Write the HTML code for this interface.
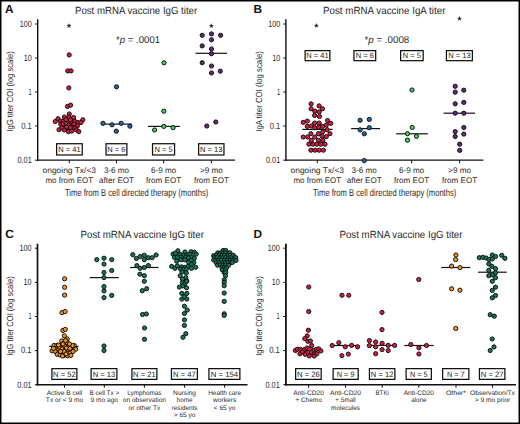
<!DOCTYPE html>
<html><head><meta charset="utf-8"><style>
html,body{margin:0;padding:0;background:#fff;width:520px;height:424px;overflow:hidden;font-family:"Liberation Sans", sans-serif;}
svg text{font-family:"Liberation Sans", sans-serif;text-rendering:geometricPrecision;}
</style></head><body>
<svg width="520" height="424" viewBox="0 0 520 424" style="position:absolute;left:0;top:0" font-family='"Liberation Sans", sans-serif'>
<rect x="0" y="0" width="520" height="424" fill="#000"/>
<rect x="1.5" y="1.5" width="517" height="421" fill="#fff"/>
<text x="5.00" y="12.90" font-size="11.8" text-anchor="start" font-weight="bold" fill="#111">A</text>
<text x="253.60" y="12.90" font-size="11.8" text-anchor="start" font-weight="bold" fill="#111">B</text>
<text x="5.20" y="237.60" font-size="11.8" text-anchor="start" font-weight="bold" fill="#111">C</text>
<text x="253.60" y="237.60" font-size="11.8" text-anchor="start" font-weight="bold" fill="#111">D</text>
<text x="75.00" y="13.50" font-size="10.4" text-anchor="start" textLength="122.20" lengthAdjust="spacingAndGlyphs" fill="#2a2a2a">Post mRNA vaccine IgG titer</text>
<text x="323.00" y="13.50" font-size="10.4" text-anchor="start" textLength="122.40" lengthAdjust="spacingAndGlyphs" fill="#2a2a2a">Post mRNA vaccine IgA titer</text>
<text x="80.50" y="237.70" font-size="10.4" text-anchor="start" textLength="123.50" lengthAdjust="spacingAndGlyphs" fill="#2a2a2a">Post mRNA vaccine IgG titer</text>
<text x="339.50" y="237.70" font-size="10.4" text-anchor="start" textLength="123.00" lengthAdjust="spacingAndGlyphs" fill="#2a2a2a">Post mRNA vaccine IgG titer</text>
<text x="116.00" y="42.90" font-size="9.8" fill="#2a2a2a" textLength="44.20" lengthAdjust="spacingAndGlyphs">*<tspan font-style="italic">p</tspan> = .0001</text>
<text x="364.50" y="42.90" font-size="9.8" fill="#2a2a2a" textLength="44.80" lengthAdjust="spacingAndGlyphs">*<tspan font-style="italic">p</tspan> = .0008</text>
<line x1="37.70" y1="19.20" x2="37.70" y2="160.90" stroke="#111" stroke-width="1.4"/>
<line x1="35.10" y1="24.00" x2="37.70" y2="24.00" stroke="#111" stroke-width="1.0"/>
<text x="31.80" y="26.80" font-size="9.0" text-anchor="end" textLength="12.00" lengthAdjust="spacingAndGlyphs" fill="#2a2a2a">100</text>
<line x1="35.10" y1="58.00" x2="37.70" y2="58.00" stroke="#111" stroke-width="1.0"/>
<text x="31.80" y="60.80" font-size="9.0" text-anchor="end" textLength="8.00" lengthAdjust="spacingAndGlyphs" fill="#2a2a2a">10</text>
<line x1="35.10" y1="92.00" x2="37.70" y2="92.00" stroke="#111" stroke-width="1.0"/>
<text x="31.80" y="94.80" font-size="9.0" text-anchor="end" textLength="3.20" lengthAdjust="spacingAndGlyphs" fill="#2a2a2a">1</text>
<line x1="35.10" y1="126.00" x2="37.70" y2="126.00" stroke="#111" stroke-width="1.0"/>
<text x="31.80" y="128.80" font-size="9.0" text-anchor="end" textLength="10.60" lengthAdjust="spacingAndGlyphs" fill="#2a2a2a">0.1</text>
<line x1="35.10" y1="160.20" x2="37.70" y2="160.20" stroke="#111" stroke-width="1.0"/>
<text x="31.80" y="163.00" font-size="9.0" text-anchor="end" textLength="14.30" lengthAdjust="spacingAndGlyphs" fill="#2a2a2a">0.01</text>
<text transform="translate(13.40,91.40) rotate(-90)" x="0" y="0" font-size="8.9" text-anchor="middle" textLength="80.50" lengthAdjust="spacingAndGlyphs" fill="#2a2a2a">IgG titer  COI (log scale)</text>
<line x1="37.05" y1="160.20" x2="235.00" y2="160.20" stroke="#111" stroke-width="1.3"/>
<line x1="69.30" y1="160.20" x2="69.30" y2="163.20" stroke="#111" stroke-width="1.0"/>
<line x1="116.50" y1="160.20" x2="116.50" y2="163.20" stroke="#111" stroke-width="1.0"/>
<line x1="163.60" y1="160.20" x2="163.60" y2="163.20" stroke="#111" stroke-width="1.0"/>
<line x1="211.40" y1="160.20" x2="211.40" y2="163.20" stroke="#111" stroke-width="1.0"/>
<line x1="285.90" y1="19.20" x2="285.90" y2="160.90" stroke="#111" stroke-width="1.4"/>
<line x1="283.30" y1="24.00" x2="285.90" y2="24.00" stroke="#111" stroke-width="1.0"/>
<text x="280.30" y="26.80" font-size="9.0" text-anchor="end" textLength="12.00" lengthAdjust="spacingAndGlyphs" fill="#2a2a2a">100</text>
<line x1="283.30" y1="58.00" x2="285.90" y2="58.00" stroke="#111" stroke-width="1.0"/>
<text x="280.30" y="60.80" font-size="9.0" text-anchor="end" textLength="8.00" lengthAdjust="spacingAndGlyphs" fill="#2a2a2a">10</text>
<line x1="283.30" y1="92.00" x2="285.90" y2="92.00" stroke="#111" stroke-width="1.0"/>
<text x="280.30" y="94.80" font-size="9.0" text-anchor="end" textLength="3.20" lengthAdjust="spacingAndGlyphs" fill="#2a2a2a">1</text>
<line x1="283.30" y1="126.00" x2="285.90" y2="126.00" stroke="#111" stroke-width="1.0"/>
<text x="280.30" y="128.80" font-size="9.0" text-anchor="end" textLength="10.60" lengthAdjust="spacingAndGlyphs" fill="#2a2a2a">0.1</text>
<line x1="283.30" y1="160.20" x2="285.90" y2="160.20" stroke="#111" stroke-width="1.0"/>
<text x="280.30" y="163.00" font-size="9.0" text-anchor="end" textLength="14.30" lengthAdjust="spacingAndGlyphs" fill="#2a2a2a">0.01</text>
<text transform="translate(261.60,91.40) rotate(-90)" x="0" y="0" font-size="8.9" text-anchor="middle" textLength="80.50" lengthAdjust="spacingAndGlyphs" fill="#2a2a2a">IgA titer  COI (log scale)</text>
<line x1="285.25" y1="160.20" x2="483.30" y2="160.20" stroke="#111" stroke-width="1.3"/>
<line x1="317.30" y1="160.20" x2="317.30" y2="163.20" stroke="#111" stroke-width="1.0"/>
<line x1="364.20" y1="160.20" x2="364.20" y2="163.20" stroke="#111" stroke-width="1.0"/>
<line x1="411.60" y1="160.20" x2="411.60" y2="163.20" stroke="#111" stroke-width="1.0"/>
<line x1="459.60" y1="160.20" x2="459.60" y2="163.20" stroke="#111" stroke-width="1.0"/>
<line x1="37.50" y1="243.70" x2="37.50" y2="385.55" stroke="#111" stroke-width="1.7"/>
<line x1="34.90" y1="248.20" x2="37.50" y2="248.20" stroke="#111" stroke-width="1.0"/>
<text x="31.60" y="251.00" font-size="9.0" text-anchor="end" textLength="12.00" lengthAdjust="spacingAndGlyphs" fill="#2a2a2a">100</text>
<line x1="34.90" y1="282.40" x2="37.50" y2="282.40" stroke="#111" stroke-width="1.0"/>
<text x="31.60" y="285.20" font-size="9.0" text-anchor="end" textLength="8.00" lengthAdjust="spacingAndGlyphs" fill="#2a2a2a">10</text>
<line x1="34.90" y1="316.50" x2="37.50" y2="316.50" stroke="#111" stroke-width="1.0"/>
<text x="31.60" y="319.30" font-size="9.0" text-anchor="end" textLength="3.20" lengthAdjust="spacingAndGlyphs" fill="#2a2a2a">1</text>
<line x1="34.90" y1="350.60" x2="37.50" y2="350.60" stroke="#111" stroke-width="1.0"/>
<text x="31.60" y="353.40" font-size="9.0" text-anchor="end" textLength="10.60" lengthAdjust="spacingAndGlyphs" fill="#2a2a2a">0.1</text>
<line x1="34.90" y1="384.70" x2="37.50" y2="384.70" stroke="#111" stroke-width="1.0"/>
<text x="31.60" y="387.50" font-size="9.0" text-anchor="end" textLength="14.30" lengthAdjust="spacingAndGlyphs" fill="#2a2a2a">0.01</text>
<text transform="translate(13.40,316.00) rotate(-90)" x="0" y="0" font-size="8.9" text-anchor="middle" textLength="79.50" lengthAdjust="spacingAndGlyphs" fill="#2a2a2a">IgG titer  COI (log scale)</text>
<line x1="36.70" y1="384.70" x2="247.50" y2="384.70" stroke="#111" stroke-width="1.6"/>
<line x1="64.50" y1="384.70" x2="64.50" y2="387.70" stroke="#111" stroke-width="1.0"/>
<line x1="104.30" y1="384.70" x2="104.30" y2="387.70" stroke="#111" stroke-width="1.0"/>
<line x1="144.40" y1="384.70" x2="144.40" y2="387.70" stroke="#111" stroke-width="1.0"/>
<line x1="184.60" y1="384.70" x2="184.60" y2="387.70" stroke="#111" stroke-width="1.0"/>
<line x1="224.60" y1="384.70" x2="224.60" y2="387.70" stroke="#111" stroke-width="1.0"/>
<line x1="285.90" y1="243.70" x2="285.90" y2="385.60" stroke="#111" stroke-width="1.8"/>
<line x1="283.30" y1="248.20" x2="285.90" y2="248.20" stroke="#111" stroke-width="1.0"/>
<text x="279.80" y="251.00" font-size="9.0" text-anchor="end" textLength="12.00" lengthAdjust="spacingAndGlyphs" fill="#2a2a2a">100</text>
<line x1="283.30" y1="282.40" x2="285.90" y2="282.40" stroke="#111" stroke-width="1.0"/>
<text x="279.80" y="285.20" font-size="9.0" text-anchor="end" textLength="8.00" lengthAdjust="spacingAndGlyphs" fill="#2a2a2a">10</text>
<line x1="283.30" y1="316.50" x2="285.90" y2="316.50" stroke="#111" stroke-width="1.0"/>
<text x="279.80" y="319.30" font-size="9.0" text-anchor="end" textLength="3.20" lengthAdjust="spacingAndGlyphs" fill="#2a2a2a">1</text>
<line x1="283.30" y1="350.60" x2="285.90" y2="350.60" stroke="#111" stroke-width="1.0"/>
<text x="279.80" y="353.40" font-size="9.0" text-anchor="end" textLength="10.60" lengthAdjust="spacingAndGlyphs" fill="#2a2a2a">0.1</text>
<line x1="283.30" y1="384.70" x2="285.90" y2="384.70" stroke="#111" stroke-width="1.0"/>
<text x="279.80" y="387.50" font-size="9.0" text-anchor="end" textLength="14.30" lengthAdjust="spacingAndGlyphs" fill="#2a2a2a">0.01</text>
<text transform="translate(261.60,316.00) rotate(-90)" x="0" y="0" font-size="8.9" text-anchor="middle" textLength="79.50" lengthAdjust="spacingAndGlyphs" fill="#2a2a2a">IgG titer  COI (log scale)</text>
<line x1="285.10" y1="384.70" x2="516.00" y2="384.70" stroke="#111" stroke-width="1.6"/>
<line x1="308.60" y1="384.70" x2="308.60" y2="387.70" stroke="#111" stroke-width="1.0"/>
<line x1="345.50" y1="384.70" x2="345.50" y2="387.70" stroke="#111" stroke-width="1.0"/>
<line x1="382.20" y1="384.70" x2="382.20" y2="387.70" stroke="#111" stroke-width="1.0"/>
<line x1="418.80" y1="384.70" x2="418.80" y2="387.70" stroke="#111" stroke-width="1.0"/>
<line x1="456.00" y1="384.70" x2="456.00" y2="387.70" stroke="#111" stroke-width="1.0"/>
<line x1="492.50" y1="384.70" x2="492.50" y2="387.70" stroke="#111" stroke-width="1.0"/>
<text x="69.30" y="173.30" font-size="8.2" text-anchor="middle" textLength="53.50" lengthAdjust="spacingAndGlyphs" fill="#2a2a2a">ongoing Tx/&lt;3</text>
<text x="69.30" y="182.80" font-size="8.2" text-anchor="middle" textLength="47.70" lengthAdjust="spacingAndGlyphs" fill="#2a2a2a">mo from EOT</text>
<text x="116.50" y="173.30" font-size="8.2" text-anchor="middle" textLength="25.20" lengthAdjust="spacingAndGlyphs" fill="#2a2a2a">3-6 mo</text>
<text x="116.50" y="182.80" font-size="8.2" text-anchor="middle" textLength="35.00" lengthAdjust="spacingAndGlyphs" fill="#2a2a2a">after EOT</text>
<text x="163.60" y="173.30" font-size="8.2" text-anchor="middle" textLength="25.20" lengthAdjust="spacingAndGlyphs" fill="#2a2a2a">6-9 mo</text>
<text x="163.60" y="182.80" font-size="8.2" text-anchor="middle" textLength="35.00" lengthAdjust="spacingAndGlyphs" fill="#2a2a2a">from EOT</text>
<text x="211.40" y="173.30" font-size="8.2" text-anchor="middle" textLength="23.00" lengthAdjust="spacingAndGlyphs" fill="#2a2a2a">&gt;9 mo</text>
<text x="211.40" y="182.80" font-size="8.2" text-anchor="middle" textLength="35.00" lengthAdjust="spacingAndGlyphs" fill="#2a2a2a">from EOT</text>
<text x="317.30" y="173.30" font-size="8.2" text-anchor="middle" textLength="53.50" lengthAdjust="spacingAndGlyphs" fill="#2a2a2a">ongoing Tx/&lt;3</text>
<text x="317.30" y="182.80" font-size="8.2" text-anchor="middle" textLength="47.70" lengthAdjust="spacingAndGlyphs" fill="#2a2a2a">mo from EOT</text>
<text x="364.20" y="173.30" font-size="8.2" text-anchor="middle" textLength="25.20" lengthAdjust="spacingAndGlyphs" fill="#2a2a2a">3-6 mo</text>
<text x="364.20" y="182.80" font-size="8.2" text-anchor="middle" textLength="35.00" lengthAdjust="spacingAndGlyphs" fill="#2a2a2a">after EOT</text>
<text x="411.60" y="173.30" font-size="8.2" text-anchor="middle" textLength="25.20" lengthAdjust="spacingAndGlyphs" fill="#2a2a2a">6-9 mo</text>
<text x="411.60" y="182.80" font-size="8.2" text-anchor="middle" textLength="35.00" lengthAdjust="spacingAndGlyphs" fill="#2a2a2a">from EOT</text>
<text x="459.60" y="173.30" font-size="8.2" text-anchor="middle" textLength="23.00" lengthAdjust="spacingAndGlyphs" fill="#2a2a2a">&gt;9 mo</text>
<text x="459.60" y="182.80" font-size="8.2" text-anchor="middle" textLength="35.00" lengthAdjust="spacingAndGlyphs" fill="#2a2a2a">from EOT</text>
<text x="65.00" y="196.40" font-size="10.0" text-anchor="start" textLength="143.30" lengthAdjust="spacingAndGlyphs" fill="#2a2a2a">Time from B cell directed therapy (months)</text>
<text x="313.00" y="196.40" font-size="10.0" text-anchor="start" textLength="143.30" lengthAdjust="spacingAndGlyphs" fill="#2a2a2a">Time from B cell directed therapy (months)</text>
<text x="64.50" y="394.80" font-size="6.6" text-anchor="middle" textLength="35.60" lengthAdjust="spacingAndGlyphs" fill="#2a2a2a">Active B cell</text>
<text x="64.50" y="402.20" font-size="6.6" text-anchor="middle" textLength="37.30" lengthAdjust="spacingAndGlyphs" fill="#2a2a2a">Tx or &lt; 9 mo</text>
<text x="104.30" y="394.80" font-size="6.6" text-anchor="middle" textLength="29.80" lengthAdjust="spacingAndGlyphs" fill="#2a2a2a">B cell Tx &gt;</text>
<text x="104.30" y="402.20" font-size="6.6" text-anchor="middle" textLength="27.50" lengthAdjust="spacingAndGlyphs" fill="#2a2a2a">9 mo ago</text>
<text x="144.40" y="394.80" font-size="6.6" text-anchor="middle" textLength="34.20" lengthAdjust="spacingAndGlyphs" fill="#2a2a2a">Lymphomas</text>
<text x="144.40" y="402.20" font-size="6.6" text-anchor="middle" textLength="43.30" lengthAdjust="spacingAndGlyphs" fill="#2a2a2a">on observation</text>
<text x="144.40" y="409.60" font-size="6.6" text-anchor="middle" textLength="31.80" lengthAdjust="spacingAndGlyphs" fill="#2a2a2a">or other Tx</text>
<text x="184.60" y="394.80" font-size="6.6" text-anchor="middle" textLength="23.00" lengthAdjust="spacingAndGlyphs" fill="#2a2a2a">Nursing</text>
<text x="184.60" y="402.20" font-size="6.6" text-anchor="middle" textLength="15.60" lengthAdjust="spacingAndGlyphs" fill="#2a2a2a">home</text>
<text x="184.60" y="409.60" font-size="6.6" text-anchor="middle" textLength="25.80" lengthAdjust="spacingAndGlyphs" fill="#2a2a2a">residents</text>
<text x="184.60" y="417.00" font-size="6.6" text-anchor="middle" textLength="21.60" lengthAdjust="spacingAndGlyphs" fill="#2a2a2a">&gt; 65 yo</text>
<text x="224.60" y="394.80" font-size="6.6" text-anchor="middle" textLength="32.70" lengthAdjust="spacingAndGlyphs" fill="#2a2a2a">Health care</text>
<text x="224.60" y="402.20" font-size="6.6" text-anchor="middle" textLength="23.20" lengthAdjust="spacingAndGlyphs" fill="#2a2a2a">workers</text>
<text x="224.60" y="409.60" font-size="6.6" text-anchor="middle" textLength="21.60" lengthAdjust="spacingAndGlyphs" fill="#2a2a2a">&lt; 65 yo</text>
<text x="308.60" y="394.80" font-size="6.6" text-anchor="middle" textLength="30.80" lengthAdjust="spacingAndGlyphs" fill="#2a2a2a">Anti-CD20</text>
<text x="308.60" y="402.20" font-size="6.6" text-anchor="middle" textLength="26.40" lengthAdjust="spacingAndGlyphs" fill="#2a2a2a">+ Chemo</text>
<text x="345.50" y="394.80" font-size="6.6" text-anchor="middle" textLength="30.80" lengthAdjust="spacingAndGlyphs" fill="#2a2a2a">Anti-CD20</text>
<text x="345.50" y="402.20" font-size="6.6" text-anchor="middle" textLength="20.40" lengthAdjust="spacingAndGlyphs" fill="#2a2a2a">+ Small</text>
<text x="345.50" y="409.60" font-size="6.6" text-anchor="middle" textLength="28.80" lengthAdjust="spacingAndGlyphs" fill="#2a2a2a">molecules</text>
<text x="382.20" y="394.80" font-size="6.6" text-anchor="middle" textLength="13.40" lengthAdjust="spacingAndGlyphs" fill="#2a2a2a">BTKi</text>
<text x="418.80" y="394.80" font-size="6.6" text-anchor="middle" textLength="30.30" lengthAdjust="spacingAndGlyphs" fill="#2a2a2a">Anti-CD20</text>
<text x="418.80" y="402.20" font-size="6.6" text-anchor="middle" textLength="15.30" lengthAdjust="spacingAndGlyphs" fill="#2a2a2a">alone</text>
<text x="456.00" y="394.80" font-size="6.6" text-anchor="middle" textLength="20.20" lengthAdjust="spacingAndGlyphs" fill="#2a2a2a">Other*</text>
<text x="492.50" y="394.80" font-size="6.6" text-anchor="middle" textLength="44.80" lengthAdjust="spacingAndGlyphs" fill="#2a2a2a">Observation/Tx</text>
<text x="492.50" y="402.20" font-size="6.6" text-anchor="middle" textLength="35.60" lengthAdjust="spacingAndGlyphs" fill="#2a2a2a">&gt; 9 mo prior</text>
<rect x="56.62" y="143.72" width="25.65" height="11.25" fill="#fff" stroke="#111" stroke-width="1.25"/>
<text x="69.45" y="151.80" font-size="7.6" text-anchor="middle" textLength="22.40" lengthAdjust="spacingAndGlyphs" fill="#222">N = 41</text>
<rect x="106.03" y="143.72" width="20.85" height="11.25" fill="#fff" stroke="#111" stroke-width="1.25"/>
<text x="116.45" y="151.80" font-size="7.6" text-anchor="middle" textLength="18.20" lengthAdjust="spacingAndGlyphs" fill="#222">N = 6</text>
<rect x="152.53" y="143.72" width="22.05" height="11.25" fill="#fff" stroke="#111" stroke-width="1.25"/>
<text x="163.55" y="151.80" font-size="7.6" text-anchor="middle" textLength="18.20" lengthAdjust="spacingAndGlyphs" fill="#222">N = 5</text>
<rect x="198.62" y="143.72" width="25.35" height="11.25" fill="#fff" stroke="#111" stroke-width="1.25"/>
<text x="211.30" y="151.80" font-size="7.6" text-anchor="middle" textLength="22.40" lengthAdjust="spacingAndGlyphs" fill="#222">N = 13</text>
<rect x="305.12" y="50.62" width="24.75" height="10.05" fill="#fff" stroke="#111" stroke-width="1.25"/>
<text x="317.50" y="57.50" font-size="7.6" text-anchor="middle" textLength="22.40" lengthAdjust="spacingAndGlyphs" fill="#222">N = 41</text>
<rect x="353.93" y="50.62" width="21.75" height="10.05" fill="#fff" stroke="#111" stroke-width="1.25"/>
<text x="364.80" y="57.50" font-size="7.6" text-anchor="middle" textLength="18.20" lengthAdjust="spacingAndGlyphs" fill="#222">N = 6</text>
<rect x="400.62" y="50.62" width="22.55" height="10.05" fill="#fff" stroke="#111" stroke-width="1.25"/>
<text x="411.90" y="57.50" font-size="7.6" text-anchor="middle" textLength="18.20" lengthAdjust="spacingAndGlyphs" fill="#222">N = 5</text>
<rect x="446.43" y="50.62" width="25.95" height="10.05" fill="#fff" stroke="#111" stroke-width="1.25"/>
<text x="459.40" y="57.50" font-size="7.6" text-anchor="middle" textLength="22.40" lengthAdjust="spacingAndGlyphs" fill="#222">N = 13</text>
<rect x="51.92" y="368.62" width="24.95" height="10.75" fill="#fff" stroke="#111" stroke-width="1.25"/>
<text x="64.40" y="376.60" font-size="7.8" text-anchor="middle" textLength="22.60" lengthAdjust="spacingAndGlyphs" fill="#222">N = 52</text>
<rect x="91.12" y="368.62" width="25.75" height="10.75" fill="#fff" stroke="#111" stroke-width="1.25"/>
<text x="104.00" y="376.60" font-size="7.8" text-anchor="middle" textLength="22.60" lengthAdjust="spacingAndGlyphs" fill="#222">N = 13</text>
<rect x="131.93" y="368.62" width="24.95" height="10.75" fill="#fff" stroke="#111" stroke-width="1.25"/>
<text x="144.40" y="376.60" font-size="7.8" text-anchor="middle" textLength="22.60" lengthAdjust="spacingAndGlyphs" fill="#222">N = 21</text>
<rect x="171.43" y="368.62" width="25.95" height="10.75" fill="#fff" stroke="#111" stroke-width="1.25"/>
<text x="184.40" y="376.60" font-size="7.8" text-anchor="middle" textLength="22.60" lengthAdjust="spacingAndGlyphs" fill="#222">N = 47</text>
<rect x="208.93" y="368.62" width="30.95" height="10.75" fill="#fff" stroke="#111" stroke-width="1.25"/>
<text x="224.40" y="376.60" font-size="7.8" text-anchor="middle" textLength="27.50" lengthAdjust="spacingAndGlyphs" fill="#222">N = 154</text>
<rect x="295.62" y="368.62" width="25.55" height="10.75" fill="#fff" stroke="#111" stroke-width="1.25"/>
<text x="308.40" y="376.60" font-size="7.8" text-anchor="middle" textLength="22.60" lengthAdjust="spacingAndGlyphs" fill="#222">N = 26</text>
<rect x="333.12" y="368.62" width="25.05" height="10.75" fill="#fff" stroke="#111" stroke-width="1.25"/>
<text x="345.65" y="376.60" font-size="7.8" text-anchor="middle" textLength="17.60" lengthAdjust="spacingAndGlyphs" fill="#222">N = 9</text>
<rect x="369.43" y="368.62" width="25.45" height="10.75" fill="#fff" stroke="#111" stroke-width="1.25"/>
<text x="382.15" y="376.60" font-size="7.8" text-anchor="middle" textLength="22.60" lengthAdjust="spacingAndGlyphs" fill="#222">N = 12</text>
<rect x="406.12" y="368.62" width="25.25" height="10.75" fill="#fff" stroke="#111" stroke-width="1.25"/>
<text x="418.75" y="376.60" font-size="7.8" text-anchor="middle" textLength="17.60" lengthAdjust="spacingAndGlyphs" fill="#222">N = 5</text>
<rect x="442.62" y="368.62" width="26.25" height="10.75" fill="#fff" stroke="#111" stroke-width="1.25"/>
<text x="455.75" y="376.60" font-size="7.8" text-anchor="middle" textLength="17.60" lengthAdjust="spacingAndGlyphs" fill="#222">N = 7</text>
<rect x="479.43" y="368.62" width="25.45" height="10.75" fill="#fff" stroke="#111" stroke-width="1.25"/>
<text x="492.15" y="376.60" font-size="7.8" text-anchor="middle" textLength="22.60" lengthAdjust="spacingAndGlyphs" fill="#222">N = 27</text>
<polygon points="69.00,23.20 69.69,24.85 71.47,25.00 70.11,26.16 70.53,27.90 69.00,26.97 67.47,27.90 67.89,26.16 66.53,25.00 68.31,24.85" fill="#333"/>
<polygon points="211.40,23.30 212.09,24.95 213.87,25.10 212.51,26.26 212.93,28.00 211.40,27.07 209.87,28.00 210.29,26.26 208.93,25.10 210.71,24.95" fill="#333"/>
<polygon points="316.40,23.10 317.09,24.75 318.87,24.90 317.51,26.06 317.93,27.80 316.40,26.87 314.87,27.80 315.29,26.06 313.93,24.90 315.71,24.75" fill="#333"/>
<polygon points="459.50,16.10 460.19,17.75 461.97,17.90 460.61,19.06 461.03,20.80 459.50,19.87 457.97,20.80 458.39,19.06 457.03,17.90 458.81,17.75" fill="#333"/>
<line x1="101.00" y1="124.10" x2="131.80" y2="124.10" stroke="#111" stroke-width="1.2"/>
<line x1="148.00" y1="126.40" x2="179.80" y2="126.40" stroke="#111" stroke-width="1.2"/>
<line x1="195.50" y1="53.30" x2="227.00" y2="53.30" stroke="#111" stroke-width="1.2"/>
<line x1="302.30" y1="129.40" x2="332.70" y2="129.40" stroke="#111" stroke-width="1.2"/>
<line x1="351.10" y1="128.60" x2="380.00" y2="128.60" stroke="#111" stroke-width="1.2"/>
<line x1="396.20" y1="133.80" x2="427.80" y2="133.80" stroke="#111" stroke-width="1.2"/>
<line x1="443.60" y1="113.20" x2="475.00" y2="113.20" stroke="#111" stroke-width="1.2"/>
<line x1="49.20" y1="346.40" x2="78.50" y2="346.40" stroke="#111" stroke-width="1.2"/>
<line x1="89.80" y1="277.60" x2="118.70" y2="277.60" stroke="#111" stroke-width="1.2"/>
<line x1="130.10" y1="267.50" x2="158.50" y2="267.50" stroke="#111" stroke-width="1.2"/>
<line x1="332.00" y1="345.50" x2="357.60" y2="345.50" stroke="#111" stroke-width="1.2"/>
<line x1="368.00" y1="345.40" x2="396.00" y2="345.40" stroke="#111" stroke-width="1.2"/>
<line x1="404.30" y1="345.50" x2="433.70" y2="345.50" stroke="#111" stroke-width="1.2"/>
<line x1="441.20" y1="267.50" x2="470.30" y2="267.50" stroke="#111" stroke-width="1.2"/>
<line x1="478.10" y1="272.20" x2="506.80" y2="272.20" stroke="#111" stroke-width="1.2"/>
<circle cx="69.20" cy="54.90" r="2.1" fill="#dc1a40" stroke="#111" stroke-width="1.0"/>
<circle cx="67.80" cy="70.90" r="2.1" fill="#dc1a40" stroke="#111" stroke-width="1.0"/>
<circle cx="71.00" cy="70.90" r="2.1" fill="#dc1a40" stroke="#111" stroke-width="1.0"/>
<circle cx="68.80" cy="87.90" r="2.1" fill="#dc1a40" stroke="#111" stroke-width="1.0"/>
<circle cx="67.50" cy="106.40" r="2.1" fill="#dc1a40" stroke="#111" stroke-width="1.0"/>
<circle cx="70.60" cy="105.20" r="2.1" fill="#dc1a40" stroke="#111" stroke-width="1.0"/>
<circle cx="69.30" cy="114.00" r="2.1" fill="#dc1a40" stroke="#111" stroke-width="1.0"/>
<circle cx="64.40" cy="117.00" r="2.1" fill="#dc1a40" stroke="#111" stroke-width="1.0"/>
<circle cx="68.90" cy="117.30" r="2.1" fill="#dc1a40" stroke="#111" stroke-width="1.0"/>
<circle cx="73.60" cy="117.50" r="2.1" fill="#dc1a40" stroke="#111" stroke-width="1.0"/>
<circle cx="58.00" cy="118.70" r="2.1" fill="#dc1a40" stroke="#111" stroke-width="1.0"/>
<circle cx="55.20" cy="121.50" r="2.1" fill="#dc1a40" stroke="#111" stroke-width="1.0"/>
<circle cx="82.80" cy="119.80" r="2.1" fill="#dc1a40" stroke="#111" stroke-width="1.0"/>
<circle cx="60.40" cy="121.20" r="2.1" fill="#dc1a40" stroke="#111" stroke-width="1.0"/>
<circle cx="63.20" cy="121.20" r="2.1" fill="#dc1a40" stroke="#111" stroke-width="1.0"/>
<circle cx="67.50" cy="121.20" r="2.1" fill="#dc1a40" stroke="#111" stroke-width="1.0"/>
<circle cx="71.50" cy="122.50" r="2.1" fill="#dc1a40" stroke="#111" stroke-width="1.0"/>
<circle cx="75.00" cy="121.50" r="2.1" fill="#dc1a40" stroke="#111" stroke-width="1.0"/>
<circle cx="77.80" cy="122.50" r="2.1" fill="#dc1a40" stroke="#111" stroke-width="1.0"/>
<circle cx="81.00" cy="122.50" r="2.1" fill="#dc1a40" stroke="#111" stroke-width="1.0"/>
<circle cx="60.80" cy="124.30" r="2.1" fill="#dc1a40" stroke="#111" stroke-width="1.0"/>
<circle cx="65.10" cy="125.90" r="2.1" fill="#dc1a40" stroke="#111" stroke-width="1.0"/>
<circle cx="68.90" cy="125.00" r="2.1" fill="#dc1a40" stroke="#111" stroke-width="1.0"/>
<circle cx="72.60" cy="125.30" r="2.1" fill="#dc1a40" stroke="#111" stroke-width="1.0"/>
<circle cx="77.40" cy="125.90" r="2.1" fill="#dc1a40" stroke="#111" stroke-width="1.0"/>
<circle cx="59.00" cy="129.70" r="2.1" fill="#dc1a40" stroke="#111" stroke-width="1.0"/>
<circle cx="61.80" cy="127.80" r="2.1" fill="#dc1a40" stroke="#111" stroke-width="1.0"/>
<circle cx="64.20" cy="130.00" r="2.1" fill="#dc1a40" stroke="#111" stroke-width="1.0"/>
<circle cx="67.90" cy="128.30" r="2.1" fill="#dc1a40" stroke="#111" stroke-width="1.0"/>
<circle cx="71.50" cy="130.00" r="2.1" fill="#dc1a40" stroke="#111" stroke-width="1.0"/>
<circle cx="75.00" cy="128.10" r="2.1" fill="#dc1a40" stroke="#111" stroke-width="1.0"/>
<circle cx="76.40" cy="130.00" r="2.1" fill="#dc1a40" stroke="#111" stroke-width="1.0"/>
<circle cx="68.40" cy="131.60" r="2.1" fill="#dc1a40" stroke="#111" stroke-width="1.0"/>
<circle cx="71.70" cy="131.10" r="2.1" fill="#dc1a40" stroke="#111" stroke-width="1.0"/>
<circle cx="78.80" cy="131.60" r="2.1" fill="#dc1a40" stroke="#111" stroke-width="1.0"/>
<circle cx="66.00" cy="119.50" r="2.1" fill="#dc1a40" stroke="#111" stroke-width="1.0"/>
<circle cx="70.50" cy="119.80" r="2.1" fill="#dc1a40" stroke="#111" stroke-width="1.0"/>
<circle cx="63.00" cy="124.00" r="2.1" fill="#dc1a40" stroke="#111" stroke-width="1.0"/>
<circle cx="74.00" cy="124.00" r="2.1" fill="#dc1a40" stroke="#111" stroke-width="1.0"/>
<circle cx="70.20" cy="127.50" r="2.1" fill="#dc1a40" stroke="#111" stroke-width="1.0"/>
<circle cx="66.50" cy="127.00" r="2.1" fill="#dc1a40" stroke="#111" stroke-width="1.0"/>
<circle cx="116.50" cy="86.80" r="2.1" fill="#1f6aa8" stroke="#111" stroke-width="1.0"/>
<circle cx="103.00" cy="123.30" r="2.1" fill="#1f6aa8" stroke="#111" stroke-width="1.0"/>
<circle cx="112.00" cy="124.80" r="2.1" fill="#1f6aa8" stroke="#111" stroke-width="1.0"/>
<circle cx="121.10" cy="123.30" r="2.1" fill="#1f6aa8" stroke="#111" stroke-width="1.0"/>
<circle cx="129.90" cy="126.20" r="2.1" fill="#1f6aa8" stroke="#111" stroke-width="1.0"/>
<circle cx="116.30" cy="131.20" r="2.1" fill="#1f6aa8" stroke="#111" stroke-width="1.0"/>
<circle cx="164.00" cy="62.80" r="2.1" fill="#3fd45a" stroke="#111" stroke-width="1.0"/>
<circle cx="163.80" cy="111.20" r="2.1" fill="#3fd45a" stroke="#111" stroke-width="1.0"/>
<circle cx="154.60" cy="130.00" r="2.1" fill="#3fd45a" stroke="#111" stroke-width="1.0"/>
<circle cx="163.80" cy="126.40" r="2.1" fill="#3fd45a" stroke="#111" stroke-width="1.0"/>
<circle cx="173.10" cy="127.70" r="2.1" fill="#3fd45a" stroke="#111" stroke-width="1.0"/>
<circle cx="202.20" cy="35.30" r="2.1" fill="#62287f" stroke="#111" stroke-width="1.0"/>
<circle cx="211.50" cy="33.90" r="2.1" fill="#62287f" stroke="#111" stroke-width="1.0"/>
<circle cx="220.60" cy="35.30" r="2.1" fill="#62287f" stroke="#111" stroke-width="1.0"/>
<circle cx="211.50" cy="39.80" r="2.1" fill="#62287f" stroke="#111" stroke-width="1.0"/>
<circle cx="202.20" cy="45.90" r="2.1" fill="#62287f" stroke="#111" stroke-width="1.0"/>
<circle cx="211.50" cy="49.00" r="2.1" fill="#62287f" stroke="#111" stroke-width="1.0"/>
<circle cx="211.50" cy="53.70" r="2.1" fill="#62287f" stroke="#111" stroke-width="1.0"/>
<circle cx="202.20" cy="62.70" r="2.1" fill="#62287f" stroke="#111" stroke-width="1.0"/>
<circle cx="211.50" cy="66.00" r="2.1" fill="#62287f" stroke="#111" stroke-width="1.0"/>
<circle cx="211.50" cy="73.00" r="2.1" fill="#62287f" stroke="#111" stroke-width="1.0"/>
<circle cx="220.30" cy="71.20" r="2.1" fill="#62287f" stroke="#111" stroke-width="1.0"/>
<circle cx="206.80" cy="126.00" r="2.1" fill="#62287f" stroke="#111" stroke-width="1.0"/>
<circle cx="215.80" cy="122.00" r="2.1" fill="#62287f" stroke="#111" stroke-width="1.0"/>
<circle cx="311.10" cy="103.90" r="2.1" fill="#dc1a40" stroke="#111" stroke-width="1.0"/>
<circle cx="319.10" cy="105.90" r="2.1" fill="#dc1a40" stroke="#111" stroke-width="1.0"/>
<circle cx="311.10" cy="108.80" r="2.1" fill="#dc1a40" stroke="#111" stroke-width="1.0"/>
<circle cx="322.50" cy="108.80" r="2.1" fill="#dc1a40" stroke="#111" stroke-width="1.0"/>
<circle cx="314.80" cy="111.20" r="2.1" fill="#dc1a40" stroke="#111" stroke-width="1.0"/>
<circle cx="319.20" cy="111.90" r="2.1" fill="#dc1a40" stroke="#111" stroke-width="1.0"/>
<circle cx="314.60" cy="115.40" r="2.1" fill="#dc1a40" stroke="#111" stroke-width="1.0"/>
<circle cx="319.50" cy="116.50" r="2.1" fill="#dc1a40" stroke="#111" stroke-width="1.0"/>
<circle cx="303.20" cy="122.40" r="2.1" fill="#dc1a40" stroke="#111" stroke-width="1.0"/>
<circle cx="307.30" cy="121.10" r="2.1" fill="#dc1a40" stroke="#111" stroke-width="1.0"/>
<circle cx="314.60" cy="123.10" r="2.1" fill="#dc1a40" stroke="#111" stroke-width="1.0"/>
<circle cx="319.20" cy="123.10" r="2.1" fill="#dc1a40" stroke="#111" stroke-width="1.0"/>
<circle cx="327.60" cy="120.50" r="2.1" fill="#dc1a40" stroke="#111" stroke-width="1.0"/>
<circle cx="330.80" cy="123.40" r="2.1" fill="#dc1a40" stroke="#111" stroke-width="1.0"/>
<circle cx="307.30" cy="126.40" r="2.1" fill="#dc1a40" stroke="#111" stroke-width="1.0"/>
<circle cx="311.30" cy="126.00" r="2.1" fill="#dc1a40" stroke="#111" stroke-width="1.0"/>
<circle cx="314.80" cy="127.70" r="2.1" fill="#dc1a40" stroke="#111" stroke-width="1.0"/>
<circle cx="318.80" cy="127.10" r="2.1" fill="#dc1a40" stroke="#111" stroke-width="1.0"/>
<circle cx="322.50" cy="126.40" r="2.1" fill="#dc1a40" stroke="#111" stroke-width="1.0"/>
<circle cx="326.30" cy="125.10" r="2.1" fill="#dc1a40" stroke="#111" stroke-width="1.0"/>
<circle cx="327.10" cy="129.70" r="2.1" fill="#dc1a40" stroke="#111" stroke-width="1.0"/>
<circle cx="322.80" cy="131.70" r="2.1" fill="#dc1a40" stroke="#111" stroke-width="1.0"/>
<circle cx="310.90" cy="133.70" r="2.1" fill="#dc1a40" stroke="#111" stroke-width="1.0"/>
<circle cx="318.40" cy="133.70" r="2.1" fill="#dc1a40" stroke="#111" stroke-width="1.0"/>
<circle cx="330.00" cy="133.70" r="2.1" fill="#dc1a40" stroke="#111" stroke-width="1.0"/>
<circle cx="303.20" cy="137.00" r="2.1" fill="#dc1a40" stroke="#111" stroke-width="1.0"/>
<circle cx="307.60" cy="137.00" r="2.1" fill="#dc1a40" stroke="#111" stroke-width="1.0"/>
<circle cx="314.80" cy="137.00" r="2.1" fill="#dc1a40" stroke="#111" stroke-width="1.0"/>
<circle cx="322.10" cy="136.30" r="2.1" fill="#dc1a40" stroke="#111" stroke-width="1.0"/>
<circle cx="326.30" cy="136.60" r="2.1" fill="#dc1a40" stroke="#111" stroke-width="1.0"/>
<circle cx="311.30" cy="140.30" r="2.1" fill="#dc1a40" stroke="#111" stroke-width="1.0"/>
<circle cx="318.40" cy="140.30" r="2.1" fill="#dc1a40" stroke="#111" stroke-width="1.0"/>
<circle cx="322.80" cy="140.30" r="2.1" fill="#dc1a40" stroke="#111" stroke-width="1.0"/>
<circle cx="308.90" cy="144.20" r="2.1" fill="#dc1a40" stroke="#111" stroke-width="1.0"/>
<circle cx="312.90" cy="144.20" r="2.1" fill="#dc1a40" stroke="#111" stroke-width="1.0"/>
<circle cx="316.80" cy="144.20" r="2.1" fill="#dc1a40" stroke="#111" stroke-width="1.0"/>
<circle cx="320.80" cy="144.20" r="2.1" fill="#dc1a40" stroke="#111" stroke-width="1.0"/>
<circle cx="325.00" cy="144.20" r="2.1" fill="#dc1a40" stroke="#111" stroke-width="1.0"/>
<circle cx="310.90" cy="150.20" r="2.1" fill="#dc1a40" stroke="#111" stroke-width="1.0"/>
<circle cx="315.10" cy="150.20" r="2.1" fill="#dc1a40" stroke="#111" stroke-width="1.0"/>
<circle cx="319.20" cy="150.20" r="2.1" fill="#dc1a40" stroke="#111" stroke-width="1.0"/>
<circle cx="323.40" cy="150.20" r="2.1" fill="#dc1a40" stroke="#111" stroke-width="1.0"/>
<circle cx="360.10" cy="120.30" r="2.1" fill="#1f6aa8" stroke="#111" stroke-width="1.0"/>
<circle cx="369.30" cy="119.40" r="2.1" fill="#1f6aa8" stroke="#111" stroke-width="1.0"/>
<circle cx="360.10" cy="129.80" r="2.1" fill="#1f6aa8" stroke="#111" stroke-width="1.0"/>
<circle cx="369.30" cy="127.70" r="2.1" fill="#1f6aa8" stroke="#111" stroke-width="1.0"/>
<circle cx="364.30" cy="133.80" r="2.1" fill="#1f6aa8" stroke="#111" stroke-width="1.0"/>
<circle cx="364.30" cy="160.50" r="2.1" fill="#1f6aa8" stroke="#111" stroke-width="1.0"/>
<circle cx="412.00" cy="90.00" r="2.1" fill="#3fd45a" stroke="#111" stroke-width="1.0"/>
<circle cx="412.20" cy="127.50" r="2.1" fill="#3fd45a" stroke="#111" stroke-width="1.0"/>
<circle cx="407.50" cy="133.70" r="2.1" fill="#3fd45a" stroke="#111" stroke-width="1.0"/>
<circle cx="416.50" cy="136.30" r="2.1" fill="#3fd45a" stroke="#111" stroke-width="1.0"/>
<circle cx="407.50" cy="140.20" r="2.1" fill="#3fd45a" stroke="#111" stroke-width="1.0"/>
<circle cx="455.20" cy="86.30" r="2.1" fill="#62287f" stroke="#111" stroke-width="1.0"/>
<circle cx="455.20" cy="92.20" r="2.1" fill="#62287f" stroke="#111" stroke-width="1.0"/>
<circle cx="463.80" cy="90.20" r="2.1" fill="#62287f" stroke="#111" stroke-width="1.0"/>
<circle cx="455.20" cy="103.80" r="2.1" fill="#62287f" stroke="#111" stroke-width="1.0"/>
<circle cx="463.80" cy="102.40" r="2.1" fill="#62287f" stroke="#111" stroke-width="1.0"/>
<circle cx="455.20" cy="113.20" r="2.1" fill="#62287f" stroke="#111" stroke-width="1.0"/>
<circle cx="463.80" cy="113.20" r="2.1" fill="#62287f" stroke="#111" stroke-width="1.0"/>
<circle cx="463.80" cy="127.50" r="2.1" fill="#62287f" stroke="#111" stroke-width="1.0"/>
<circle cx="455.20" cy="131.60" r="2.1" fill="#62287f" stroke="#111" stroke-width="1.0"/>
<circle cx="455.20" cy="136.50" r="2.1" fill="#62287f" stroke="#111" stroke-width="1.0"/>
<circle cx="463.80" cy="134.10" r="2.1" fill="#62287f" stroke="#111" stroke-width="1.0"/>
<circle cx="459.70" cy="144.20" r="2.1" fill="#62287f" stroke="#111" stroke-width="1.0"/>
<circle cx="459.70" cy="150.40" r="2.1" fill="#62287f" stroke="#111" stroke-width="1.0"/>
<circle cx="64.60" cy="278.80" r="2.1" fill="#f7951d" stroke="#111" stroke-width="1.0"/>
<circle cx="64.60" cy="287.30" r="2.1" fill="#f7951d" stroke="#111" stroke-width="1.0"/>
<circle cx="64.60" cy="295.10" r="2.1" fill="#f7951d" stroke="#111" stroke-width="1.0"/>
<circle cx="62.00" cy="312.60" r="2.1" fill="#f7951d" stroke="#111" stroke-width="1.0"/>
<circle cx="65.10" cy="311.60" r="2.1" fill="#f7951d" stroke="#111" stroke-width="1.0"/>
<circle cx="62.90" cy="330.40" r="2.1" fill="#f7951d" stroke="#111" stroke-width="1.0"/>
<circle cx="65.30" cy="329.40" r="2.1" fill="#f7951d" stroke="#111" stroke-width="1.0"/>
<circle cx="64.30" cy="335.80" r="2.1" fill="#f7951d" stroke="#111" stroke-width="1.0"/>
<circle cx="67.20" cy="338.90" r="2.1" fill="#f7951d" stroke="#111" stroke-width="1.0"/>
<circle cx="61.80" cy="340.90" r="2.1" fill="#f7951d" stroke="#111" stroke-width="1.0"/>
<circle cx="64.30" cy="342.50" r="2.1" fill="#f7951d" stroke="#111" stroke-width="1.0"/>
<circle cx="67.20" cy="342.50" r="2.1" fill="#f7951d" stroke="#111" stroke-width="1.0"/>
<circle cx="54.00" cy="345.50" r="2.1" fill="#f7951d" stroke="#111" stroke-width="1.0"/>
<circle cx="56.80" cy="345.50" r="2.1" fill="#f7951d" stroke="#111" stroke-width="1.0"/>
<circle cx="61.00" cy="345.30" r="2.1" fill="#f7951d" stroke="#111" stroke-width="1.0"/>
<circle cx="64.80" cy="346.20" r="2.1" fill="#f7951d" stroke="#111" stroke-width="1.0"/>
<circle cx="68.60" cy="346.90" r="2.1" fill="#f7951d" stroke="#111" stroke-width="1.0"/>
<circle cx="71.90" cy="347.40" r="2.1" fill="#f7951d" stroke="#111" stroke-width="1.0"/>
<circle cx="74.20" cy="345.50" r="2.1" fill="#f7951d" stroke="#111" stroke-width="1.0"/>
<circle cx="52.10" cy="350.70" r="2.1" fill="#f7951d" stroke="#111" stroke-width="1.0"/>
<circle cx="55.20" cy="348.80" r="2.1" fill="#f7951d" stroke="#111" stroke-width="1.0"/>
<circle cx="55.40" cy="351.60" r="2.1" fill="#f7951d" stroke="#111" stroke-width="1.0"/>
<circle cx="59.00" cy="349.40" r="2.1" fill="#f7951d" stroke="#111" stroke-width="1.0"/>
<circle cx="62.00" cy="348.80" r="2.1" fill="#f7951d" stroke="#111" stroke-width="1.0"/>
<circle cx="65.30" cy="349.70" r="2.1" fill="#f7951d" stroke="#111" stroke-width="1.0"/>
<circle cx="68.10" cy="351.60" r="2.1" fill="#f7951d" stroke="#111" stroke-width="1.0"/>
<circle cx="71.40" cy="350.20" r="2.1" fill="#f7951d" stroke="#111" stroke-width="1.0"/>
<circle cx="75.70" cy="349.20" r="2.1" fill="#f7951d" stroke="#111" stroke-width="1.0"/>
<circle cx="58.20" cy="353.50" r="2.1" fill="#f7951d" stroke="#111" stroke-width="1.0"/>
<circle cx="62.00" cy="352.50" r="2.1" fill="#f7951d" stroke="#111" stroke-width="1.0"/>
<circle cx="64.30" cy="351.60" r="2.1" fill="#f7951d" stroke="#111" stroke-width="1.0"/>
<circle cx="67.60" cy="353.50" r="2.1" fill="#f7951d" stroke="#111" stroke-width="1.0"/>
<circle cx="70.00" cy="353.00" r="2.1" fill="#f7951d" stroke="#111" stroke-width="1.0"/>
<circle cx="63.90" cy="355.40" r="2.1" fill="#f7951d" stroke="#111" stroke-width="1.0"/>
<circle cx="67.60" cy="355.80" r="2.1" fill="#f7951d" stroke="#111" stroke-width="1.0"/>
<circle cx="70.90" cy="355.40" r="2.1" fill="#f7951d" stroke="#111" stroke-width="1.0"/>
<circle cx="57.30" cy="354.40" r="2.1" fill="#f7951d" stroke="#111" stroke-width="1.0"/>
<circle cx="60.10" cy="354.90" r="2.1" fill="#f7951d" stroke="#111" stroke-width="1.0"/>
<circle cx="59.00" cy="347.00" r="2.1" fill="#f7951d" stroke="#111" stroke-width="1.0"/>
<circle cx="66.50" cy="348.00" r="2.1" fill="#f7951d" stroke="#111" stroke-width="1.0"/>
<circle cx="70.00" cy="348.50" r="2.1" fill="#f7951d" stroke="#111" stroke-width="1.0"/>
<circle cx="73.00" cy="351.50" r="2.1" fill="#f7951d" stroke="#111" stroke-width="1.0"/>
<circle cx="60.50" cy="351.50" r="2.1" fill="#f7951d" stroke="#111" stroke-width="1.0"/>
<circle cx="66.00" cy="354.00" r="2.1" fill="#f7951d" stroke="#111" stroke-width="1.0"/>
<circle cx="62.50" cy="356.00" r="2.1" fill="#f7951d" stroke="#111" stroke-width="1.0"/>
<circle cx="58.50" cy="345.00" r="2.1" fill="#f7951d" stroke="#111" stroke-width="1.0"/>
<circle cx="72.50" cy="345.50" r="2.1" fill="#f7951d" stroke="#111" stroke-width="1.0"/>
<circle cx="53.50" cy="348.50" r="2.1" fill="#f7951d" stroke="#111" stroke-width="1.0"/>
<circle cx="69.50" cy="344.00" r="2.1" fill="#f7951d" stroke="#111" stroke-width="1.0"/>
<circle cx="63.00" cy="344.00" r="2.1" fill="#f7951d" stroke="#111" stroke-width="1.0"/>
<circle cx="65.50" cy="340.50" r="2.1" fill="#f7951d" stroke="#111" stroke-width="1.0"/>
<circle cx="96.80" cy="259.60" r="2.1" fill="#0f7a5c" stroke="#111" stroke-width="1.0"/>
<circle cx="104.00" cy="258.20" r="2.1" fill="#0f7a5c" stroke="#111" stroke-width="1.0"/>
<circle cx="111.70" cy="259.60" r="2.1" fill="#0f7a5c" stroke="#111" stroke-width="1.0"/>
<circle cx="104.00" cy="264.10" r="2.1" fill="#0f7a5c" stroke="#111" stroke-width="1.0"/>
<circle cx="111.70" cy="270.50" r="2.1" fill="#0f7a5c" stroke="#111" stroke-width="1.0"/>
<circle cx="104.00" cy="272.50" r="2.1" fill="#0f7a5c" stroke="#111" stroke-width="1.0"/>
<circle cx="104.00" cy="277.60" r="2.1" fill="#0f7a5c" stroke="#111" stroke-width="1.0"/>
<circle cx="104.00" cy="286.60" r="2.1" fill="#0f7a5c" stroke="#111" stroke-width="1.0"/>
<circle cx="104.00" cy="290.90" r="2.1" fill="#0f7a5c" stroke="#111" stroke-width="1.0"/>
<circle cx="111.70" cy="295.40" r="2.1" fill="#0f7a5c" stroke="#111" stroke-width="1.0"/>
<circle cx="104.00" cy="297.60" r="2.1" fill="#0f7a5c" stroke="#111" stroke-width="1.0"/>
<circle cx="104.00" cy="346.00" r="2.1" fill="#0f7a5c" stroke="#111" stroke-width="1.0"/>
<circle cx="104.00" cy="350.50" r="2.1" fill="#0f7a5c" stroke="#111" stroke-width="1.0"/>
<circle cx="132.80" cy="254.70" r="2.1" fill="#0f7a5c" stroke="#111" stroke-width="1.0"/>
<circle cx="136.40" cy="258.50" r="2.1" fill="#0f7a5c" stroke="#111" stroke-width="1.0"/>
<circle cx="140.20" cy="256.50" r="2.1" fill="#0f7a5c" stroke="#111" stroke-width="1.0"/>
<circle cx="144.30" cy="255.30" r="2.1" fill="#0f7a5c" stroke="#111" stroke-width="1.0"/>
<circle cx="144.30" cy="259.70" r="2.1" fill="#0f7a5c" stroke="#111" stroke-width="1.0"/>
<circle cx="148.40" cy="257.70" r="2.1" fill="#0f7a5c" stroke="#111" stroke-width="1.0"/>
<circle cx="152.20" cy="257.70" r="2.1" fill="#0f7a5c" stroke="#111" stroke-width="1.0"/>
<circle cx="156.10" cy="255.00" r="2.1" fill="#0f7a5c" stroke="#111" stroke-width="1.0"/>
<circle cx="136.90" cy="265.60" r="2.1" fill="#0f7a5c" stroke="#111" stroke-width="1.0"/>
<circle cx="140.20" cy="268.30" r="2.1" fill="#0f7a5c" stroke="#111" stroke-width="1.0"/>
<circle cx="144.30" cy="267.50" r="2.1" fill="#0f7a5c" stroke="#111" stroke-width="1.0"/>
<circle cx="148.40" cy="265.60" r="2.1" fill="#0f7a5c" stroke="#111" stroke-width="1.0"/>
<circle cx="139.90" cy="274.20" r="2.1" fill="#0f7a5c" stroke="#111" stroke-width="1.0"/>
<circle cx="144.30" cy="275.70" r="2.1" fill="#0f7a5c" stroke="#111" stroke-width="1.0"/>
<circle cx="144.30" cy="281.30" r="2.1" fill="#0f7a5c" stroke="#111" stroke-width="1.0"/>
<circle cx="142.30" cy="290.70" r="2.1" fill="#0f7a5c" stroke="#111" stroke-width="1.0"/>
<circle cx="146.70" cy="288.70" r="2.1" fill="#0f7a5c" stroke="#111" stroke-width="1.0"/>
<circle cx="142.50" cy="314.50" r="2.1" fill="#0f7a5c" stroke="#111" stroke-width="1.0"/>
<circle cx="146.30" cy="314.00" r="2.1" fill="#0f7a5c" stroke="#111" stroke-width="1.0"/>
<circle cx="144.50" cy="328.00" r="2.1" fill="#0f7a5c" stroke="#111" stroke-width="1.0"/>
<circle cx="144.50" cy="339.30" r="2.1" fill="#0f7a5c" stroke="#111" stroke-width="1.0"/>
<circle cx="177.80" cy="250.80" r="2.1" fill="#0f7a5c" stroke="#111" stroke-width="1.0"/>
<circle cx="184.90" cy="252.00" r="2.1" fill="#0f7a5c" stroke="#111" stroke-width="1.0"/>
<circle cx="191.00" cy="251.80" r="2.1" fill="#0f7a5c" stroke="#111" stroke-width="1.0"/>
<circle cx="194.30" cy="252.20" r="2.1" fill="#0f7a5c" stroke="#111" stroke-width="1.0"/>
<circle cx="173.10" cy="254.10" r="2.1" fill="#0f7a5c" stroke="#111" stroke-width="1.0"/>
<circle cx="175.40" cy="253.20" r="2.1" fill="#0f7a5c" stroke="#111" stroke-width="1.0"/>
<circle cx="180.20" cy="254.40" r="2.1" fill="#0f7a5c" stroke="#111" stroke-width="1.0"/>
<circle cx="183.50" cy="255.10" r="2.1" fill="#0f7a5c" stroke="#111" stroke-width="1.0"/>
<circle cx="187.20" cy="254.60" r="2.1" fill="#0f7a5c" stroke="#111" stroke-width="1.0"/>
<circle cx="190.10" cy="254.40" r="2.1" fill="#0f7a5c" stroke="#111" stroke-width="1.0"/>
<circle cx="196.20" cy="254.10" r="2.1" fill="#0f7a5c" stroke="#111" stroke-width="1.0"/>
<circle cx="174.50" cy="257.40" r="2.1" fill="#0f7a5c" stroke="#111" stroke-width="1.0"/>
<circle cx="177.50" cy="257.20" r="2.1" fill="#0f7a5c" stroke="#111" stroke-width="1.0"/>
<circle cx="181.10" cy="257.00" r="2.1" fill="#0f7a5c" stroke="#111" stroke-width="1.0"/>
<circle cx="185.80" cy="257.00" r="2.1" fill="#0f7a5c" stroke="#111" stroke-width="1.0"/>
<circle cx="188.60" cy="257.90" r="2.1" fill="#0f7a5c" stroke="#111" stroke-width="1.0"/>
<circle cx="191.90" cy="257.00" r="2.1" fill="#0f7a5c" stroke="#111" stroke-width="1.0"/>
<circle cx="194.30" cy="258.40" r="2.1" fill="#0f7a5c" stroke="#111" stroke-width="1.0"/>
<circle cx="176.80" cy="261.20" r="2.1" fill="#0f7a5c" stroke="#111" stroke-width="1.0"/>
<circle cx="181.10" cy="259.80" r="2.1" fill="#0f7a5c" stroke="#111" stroke-width="1.0"/>
<circle cx="184.90" cy="259.80" r="2.1" fill="#0f7a5c" stroke="#111" stroke-width="1.0"/>
<circle cx="188.60" cy="262.20" r="2.1" fill="#0f7a5c" stroke="#111" stroke-width="1.0"/>
<circle cx="191.50" cy="260.30" r="2.1" fill="#0f7a5c" stroke="#111" stroke-width="1.0"/>
<circle cx="193.80" cy="262.60" r="2.1" fill="#0f7a5c" stroke="#111" stroke-width="1.0"/>
<circle cx="191.50" cy="264.30" r="2.1" fill="#0f7a5c" stroke="#111" stroke-width="1.0"/>
<circle cx="171.70" cy="266.40" r="2.1" fill="#0f7a5c" stroke="#111" stroke-width="1.0"/>
<circle cx="175.00" cy="268.30" r="2.1" fill="#0f7a5c" stroke="#111" stroke-width="1.0"/>
<circle cx="177.30" cy="265.90" r="2.1" fill="#0f7a5c" stroke="#111" stroke-width="1.0"/>
<circle cx="181.60" cy="266.90" r="2.1" fill="#0f7a5c" stroke="#111" stroke-width="1.0"/>
<circle cx="184.90" cy="267.30" r="2.1" fill="#0f7a5c" stroke="#111" stroke-width="1.0"/>
<circle cx="188.20" cy="266.40" r="2.1" fill="#0f7a5c" stroke="#111" stroke-width="1.0"/>
<circle cx="191.50" cy="268.30" r="2.1" fill="#0f7a5c" stroke="#111" stroke-width="1.0"/>
<circle cx="195.70" cy="267.30" r="2.1" fill="#0f7a5c" stroke="#111" stroke-width="1.0"/>
<circle cx="180.60" cy="269.20" r="2.1" fill="#0f7a5c" stroke="#111" stroke-width="1.0"/>
<circle cx="183.50" cy="269.20" r="2.1" fill="#0f7a5c" stroke="#111" stroke-width="1.0"/>
<circle cx="186.30" cy="269.20" r="2.1" fill="#0f7a5c" stroke="#111" stroke-width="1.0"/>
<circle cx="182.00" cy="272.00" r="2.1" fill="#0f7a5c" stroke="#111" stroke-width="1.0"/>
<circle cx="186.30" cy="273.00" r="2.1" fill="#0f7a5c" stroke="#111" stroke-width="1.0"/>
<circle cx="180.20" cy="275.80" r="2.1" fill="#0f7a5c" stroke="#111" stroke-width="1.0"/>
<circle cx="185.80" cy="277.70" r="2.1" fill="#0f7a5c" stroke="#111" stroke-width="1.0"/>
<circle cx="182.50" cy="279.10" r="2.1" fill="#0f7a5c" stroke="#111" stroke-width="1.0"/>
<circle cx="186.80" cy="281.00" r="2.1" fill="#0f7a5c" stroke="#111" stroke-width="1.0"/>
<circle cx="182.30" cy="282.80" r="2.1" fill="#0f7a5c" stroke="#111" stroke-width="1.0"/>
<circle cx="186.50" cy="281.40" r="2.1" fill="#0f7a5c" stroke="#111" stroke-width="1.0"/>
<circle cx="184.40" cy="284.20" r="2.1" fill="#0f7a5c" stroke="#111" stroke-width="1.0"/>
<circle cx="179.40" cy="287.10" r="2.1" fill="#0f7a5c" stroke="#111" stroke-width="1.0"/>
<circle cx="183.00" cy="285.90" r="2.1" fill="#0f7a5c" stroke="#111" stroke-width="1.0"/>
<circle cx="186.50" cy="287.80" r="2.1" fill="#0f7a5c" stroke="#111" stroke-width="1.0"/>
<circle cx="181.80" cy="293.40" r="2.1" fill="#0f7a5c" stroke="#111" stroke-width="1.0"/>
<circle cx="186.80" cy="293.40" r="2.1" fill="#0f7a5c" stroke="#111" stroke-width="1.0"/>
<circle cx="181.80" cy="299.10" r="2.1" fill="#0f7a5c" stroke="#111" stroke-width="1.0"/>
<circle cx="186.80" cy="299.10" r="2.1" fill="#0f7a5c" stroke="#111" stroke-width="1.0"/>
<circle cx="184.40" cy="296.70" r="2.1" fill="#0f7a5c" stroke="#111" stroke-width="1.0"/>
<circle cx="184.40" cy="306.20" r="2.1" fill="#0f7a5c" stroke="#111" stroke-width="1.0"/>
<circle cx="187.20" cy="310.10" r="2.1" fill="#0f7a5c" stroke="#111" stroke-width="1.0"/>
<circle cx="184.40" cy="313.50" r="2.1" fill="#0f7a5c" stroke="#111" stroke-width="1.0"/>
<circle cx="184.40" cy="319.90" r="2.1" fill="#0f7a5c" stroke="#111" stroke-width="1.0"/>
<circle cx="184.40" cy="325.50" r="2.1" fill="#0f7a5c" stroke="#111" stroke-width="1.0"/>
<circle cx="185.80" cy="333.70" r="2.1" fill="#0f7a5c" stroke="#111" stroke-width="1.0"/>
<circle cx="183.00" cy="337.30" r="2.1" fill="#0f7a5c" stroke="#111" stroke-width="1.0"/>
<circle cx="223.19" cy="250.49" r="2.1" fill="#0f7a5c" stroke="#111" stroke-width="1.0"/>
<circle cx="225.69" cy="250.44" r="2.1" fill="#0f7a5c" stroke="#111" stroke-width="1.0"/>
<circle cx="217.71" cy="252.92" r="2.1" fill="#0f7a5c" stroke="#111" stroke-width="1.0"/>
<circle cx="220.20" cy="253.00" r="2.1" fill="#0f7a5c" stroke="#111" stroke-width="1.0"/>
<circle cx="222.97" cy="252.96" r="2.1" fill="#0f7a5c" stroke="#111" stroke-width="1.0"/>
<circle cx="225.77" cy="252.75" r="2.1" fill="#0f7a5c" stroke="#111" stroke-width="1.0"/>
<circle cx="228.76" cy="253.20" r="2.1" fill="#0f7a5c" stroke="#111" stroke-width="1.0"/>
<circle cx="229.97" cy="252.83" r="2.1" fill="#0f7a5c" stroke="#111" stroke-width="1.0"/>
<circle cx="213.68" cy="255.67" r="2.1" fill="#0f7a5c" stroke="#111" stroke-width="1.0"/>
<circle cx="216.45" cy="255.34" r="2.1" fill="#0f7a5c" stroke="#111" stroke-width="1.0"/>
<circle cx="219.49" cy="255.13" r="2.1" fill="#0f7a5c" stroke="#111" stroke-width="1.0"/>
<circle cx="222.22" cy="255.27" r="2.1" fill="#0f7a5c" stroke="#111" stroke-width="1.0"/>
<circle cx="224.59" cy="255.17" r="2.1" fill="#0f7a5c" stroke="#111" stroke-width="1.0"/>
<circle cx="227.49" cy="255.59" r="2.1" fill="#0f7a5c" stroke="#111" stroke-width="1.0"/>
<circle cx="230.21" cy="255.45" r="2.1" fill="#0f7a5c" stroke="#111" stroke-width="1.0"/>
<circle cx="233.28" cy="255.32" r="2.1" fill="#0f7a5c" stroke="#111" stroke-width="1.0"/>
<circle cx="214.35" cy="257.54" r="2.1" fill="#0f7a5c" stroke="#111" stroke-width="1.0"/>
<circle cx="216.89" cy="257.62" r="2.1" fill="#0f7a5c" stroke="#111" stroke-width="1.0"/>
<circle cx="220.10" cy="257.76" r="2.1" fill="#0f7a5c" stroke="#111" stroke-width="1.0"/>
<circle cx="222.72" cy="257.85" r="2.1" fill="#0f7a5c" stroke="#111" stroke-width="1.0"/>
<circle cx="225.64" cy="257.68" r="2.1" fill="#0f7a5c" stroke="#111" stroke-width="1.0"/>
<circle cx="228.68" cy="257.92" r="2.1" fill="#0f7a5c" stroke="#111" stroke-width="1.0"/>
<circle cx="231.19" cy="257.84" r="2.1" fill="#0f7a5c" stroke="#111" stroke-width="1.0"/>
<circle cx="234.20" cy="258.03" r="2.1" fill="#0f7a5c" stroke="#111" stroke-width="1.0"/>
<circle cx="235.74" cy="257.67" r="2.1" fill="#0f7a5c" stroke="#111" stroke-width="1.0"/>
<circle cx="213.69" cy="259.97" r="2.1" fill="#0f7a5c" stroke="#111" stroke-width="1.0"/>
<circle cx="216.15" cy="260.35" r="2.1" fill="#0f7a5c" stroke="#111" stroke-width="1.0"/>
<circle cx="218.79" cy="260.19" r="2.1" fill="#0f7a5c" stroke="#111" stroke-width="1.0"/>
<circle cx="221.52" cy="260.30" r="2.1" fill="#0f7a5c" stroke="#111" stroke-width="1.0"/>
<circle cx="224.76" cy="260.24" r="2.1" fill="#0f7a5c" stroke="#111" stroke-width="1.0"/>
<circle cx="227.63" cy="260.09" r="2.1" fill="#0f7a5c" stroke="#111" stroke-width="1.0"/>
<circle cx="230.32" cy="260.26" r="2.1" fill="#0f7a5c" stroke="#111" stroke-width="1.0"/>
<circle cx="233.05" cy="260.17" r="2.1" fill="#0f7a5c" stroke="#111" stroke-width="1.0"/>
<circle cx="236.00" cy="260.47" r="2.1" fill="#0f7a5c" stroke="#111" stroke-width="1.0"/>
<circle cx="216.27" cy="262.70" r="2.1" fill="#0f7a5c" stroke="#111" stroke-width="1.0"/>
<circle cx="218.99" cy="262.72" r="2.1" fill="#0f7a5c" stroke="#111" stroke-width="1.0"/>
<circle cx="222.30" cy="262.90" r="2.1" fill="#0f7a5c" stroke="#111" stroke-width="1.0"/>
<circle cx="225.38" cy="262.47" r="2.1" fill="#0f7a5c" stroke="#111" stroke-width="1.0"/>
<circle cx="228.08" cy="262.70" r="2.1" fill="#0f7a5c" stroke="#111" stroke-width="1.0"/>
<circle cx="230.83" cy="262.58" r="2.1" fill="#0f7a5c" stroke="#111" stroke-width="1.0"/>
<circle cx="232.40" cy="262.37" r="2.1" fill="#0f7a5c" stroke="#111" stroke-width="1.0"/>
<circle cx="217.54" cy="265.16" r="2.1" fill="#0f7a5c" stroke="#111" stroke-width="1.0"/>
<circle cx="220.28" cy="264.85" r="2.1" fill="#0f7a5c" stroke="#111" stroke-width="1.0"/>
<circle cx="223.13" cy="265.22" r="2.1" fill="#0f7a5c" stroke="#111" stroke-width="1.0"/>
<circle cx="225.65" cy="264.97" r="2.1" fill="#0f7a5c" stroke="#111" stroke-width="1.0"/>
<circle cx="228.63" cy="265.23" r="2.1" fill="#0f7a5c" stroke="#111" stroke-width="1.0"/>
<circle cx="222.07" cy="267.72" r="2.1" fill="#0f7a5c" stroke="#111" stroke-width="1.0"/>
<circle cx="224.89" cy="267.45" r="2.1" fill="#0f7a5c" stroke="#111" stroke-width="1.0"/>
<circle cx="226.52" cy="267.73" r="2.1" fill="#0f7a5c" stroke="#111" stroke-width="1.0"/>
<circle cx="222.27" cy="269.79" r="2.1" fill="#0f7a5c" stroke="#111" stroke-width="1.0"/>
<circle cx="225.41" cy="269.84" r="2.1" fill="#0f7a5c" stroke="#111" stroke-width="1.0"/>
<circle cx="224.14" cy="272.59" r="2.1" fill="#0f7a5c" stroke="#111" stroke-width="1.0"/>
<circle cx="225.65" cy="272.46" r="2.1" fill="#0f7a5c" stroke="#111" stroke-width="1.0"/>
<circle cx="225.50" cy="275.80" r="2.1" fill="#0f7a5c" stroke="#111" stroke-width="1.0"/>
<circle cx="224.20" cy="279.90" r="2.1" fill="#0f7a5c" stroke="#111" stroke-width="1.0"/>
<circle cx="224.20" cy="282.40" r="2.1" fill="#0f7a5c" stroke="#111" stroke-width="1.0"/>
<circle cx="224.20" cy="285.70" r="2.1" fill="#0f7a5c" stroke="#111" stroke-width="1.0"/>
<circle cx="224.20" cy="293.10" r="2.1" fill="#0f7a5c" stroke="#111" stroke-width="1.0"/>
<circle cx="224.20" cy="301.40" r="2.1" fill="#0f7a5c" stroke="#111" stroke-width="1.0"/>
<circle cx="224.20" cy="313.80" r="2.1" fill="#0f7a5c" stroke="#111" stroke-width="1.0"/>
<circle cx="224.20" cy="315.50" r="2.1" fill="#0f7a5c" stroke="#111" stroke-width="1.0"/>
<circle cx="308.75" cy="287.00" r="2.1" fill="#dc1a40" stroke="#111" stroke-width="1.0"/>
<circle cx="308.75" cy="311.50" r="2.1" fill="#dc1a40" stroke="#111" stroke-width="1.0"/>
<circle cx="308.40" cy="330.20" r="2.1" fill="#dc1a40" stroke="#111" stroke-width="1.0"/>
<circle cx="307.20" cy="335.90" r="2.1" fill="#dc1a40" stroke="#111" stroke-width="1.0"/>
<circle cx="304.80" cy="338.60" r="2.1" fill="#dc1a40" stroke="#111" stroke-width="1.0"/>
<circle cx="307.90" cy="341.30" r="2.1" fill="#dc1a40" stroke="#111" stroke-width="1.0"/>
<circle cx="310.40" cy="341.00" r="2.1" fill="#dc1a40" stroke="#111" stroke-width="1.0"/>
<circle cx="311.70" cy="345.50" r="2.1" fill="#dc1a40" stroke="#111" stroke-width="1.0"/>
<circle cx="295.40" cy="350.50" r="2.1" fill="#dc1a40" stroke="#111" stroke-width="1.0"/>
<circle cx="297.20" cy="349.30" r="2.1" fill="#dc1a40" stroke="#111" stroke-width="1.0"/>
<circle cx="300.30" cy="349.30" r="2.1" fill="#dc1a40" stroke="#111" stroke-width="1.0"/>
<circle cx="304.30" cy="349.60" r="2.1" fill="#dc1a40" stroke="#111" stroke-width="1.0"/>
<circle cx="307.00" cy="348.00" r="2.1" fill="#dc1a40" stroke="#111" stroke-width="1.0"/>
<circle cx="309.30" cy="349.30" r="2.1" fill="#dc1a40" stroke="#111" stroke-width="1.0"/>
<circle cx="313.70" cy="350.20" r="2.1" fill="#dc1a40" stroke="#111" stroke-width="1.0"/>
<circle cx="316.40" cy="349.30" r="2.1" fill="#dc1a40" stroke="#111" stroke-width="1.0"/>
<circle cx="318.70" cy="348.90" r="2.1" fill="#dc1a40" stroke="#111" stroke-width="1.0"/>
<circle cx="320.90" cy="350.90" r="2.1" fill="#dc1a40" stroke="#111" stroke-width="1.0"/>
<circle cx="299.90" cy="353.80" r="2.1" fill="#dc1a40" stroke="#111" stroke-width="1.0"/>
<circle cx="302.50" cy="352.00" r="2.1" fill="#dc1a40" stroke="#111" stroke-width="1.0"/>
<circle cx="305.20" cy="354.30" r="2.1" fill="#dc1a40" stroke="#111" stroke-width="1.0"/>
<circle cx="307.90" cy="352.50" r="2.1" fill="#dc1a40" stroke="#111" stroke-width="1.0"/>
<circle cx="311.50" cy="352.50" r="2.1" fill="#dc1a40" stroke="#111" stroke-width="1.0"/>
<circle cx="314.20" cy="354.10" r="2.1" fill="#dc1a40" stroke="#111" stroke-width="1.0"/>
<circle cx="316.90" cy="353.80" r="2.1" fill="#dc1a40" stroke="#111" stroke-width="1.0"/>
<circle cx="309.30" cy="356.00" r="2.1" fill="#dc1a40" stroke="#111" stroke-width="1.0"/>
<circle cx="314.20" cy="356.00" r="2.1" fill="#dc1a40" stroke="#111" stroke-width="1.0"/>
<circle cx="342.00" cy="295.25" r="2.1" fill="#dc1a40" stroke="#111" stroke-width="1.0"/>
<circle cx="348.75" cy="295.25" r="2.1" fill="#dc1a40" stroke="#111" stroke-width="1.0"/>
<circle cx="332.20" cy="345.50" r="2.1" fill="#dc1a40" stroke="#111" stroke-width="1.0"/>
<circle cx="338.80" cy="342.70" r="2.1" fill="#dc1a40" stroke="#111" stroke-width="1.0"/>
<circle cx="345.20" cy="346.80" r="2.1" fill="#dc1a40" stroke="#111" stroke-width="1.0"/>
<circle cx="351.60" cy="345.40" r="2.1" fill="#dc1a40" stroke="#111" stroke-width="1.0"/>
<circle cx="357.60" cy="346.80" r="2.1" fill="#dc1a40" stroke="#111" stroke-width="1.0"/>
<circle cx="341.90" cy="355.70" r="2.1" fill="#dc1a40" stroke="#111" stroke-width="1.0"/>
<circle cx="348.30" cy="354.10" r="2.1" fill="#dc1a40" stroke="#111" stroke-width="1.0"/>
<circle cx="382.00" cy="312.40" r="2.1" fill="#dc1a40" stroke="#111" stroke-width="1.0"/>
<circle cx="382.00" cy="329.60" r="2.1" fill="#dc1a40" stroke="#111" stroke-width="1.0"/>
<circle cx="369.40" cy="340.60" r="2.1" fill="#dc1a40" stroke="#111" stroke-width="1.0"/>
<circle cx="369.40" cy="345.60" r="2.1" fill="#dc1a40" stroke="#111" stroke-width="1.0"/>
<circle cx="375.60" cy="342.00" r="2.1" fill="#dc1a40" stroke="#111" stroke-width="1.0"/>
<circle cx="375.60" cy="346.80" r="2.1" fill="#dc1a40" stroke="#111" stroke-width="1.0"/>
<circle cx="382.10" cy="343.30" r="2.1" fill="#dc1a40" stroke="#111" stroke-width="1.0"/>
<circle cx="382.10" cy="349.60" r="2.1" fill="#dc1a40" stroke="#111" stroke-width="1.0"/>
<circle cx="388.20" cy="345.40" r="2.1" fill="#dc1a40" stroke="#111" stroke-width="1.0"/>
<circle cx="388.20" cy="350.60" r="2.1" fill="#dc1a40" stroke="#111" stroke-width="1.0"/>
<circle cx="394.60" cy="345.40" r="2.1" fill="#dc1a40" stroke="#111" stroke-width="1.0"/>
<circle cx="375.60" cy="353.70" r="2.1" fill="#dc1a40" stroke="#111" stroke-width="1.0"/>
<circle cx="418.75" cy="279.50" r="2.1" fill="#dc1a40" stroke="#111" stroke-width="1.0"/>
<circle cx="410.80" cy="344.50" r="2.1" fill="#dc1a40" stroke="#111" stroke-width="1.0"/>
<circle cx="418.90" cy="347.80" r="2.1" fill="#dc1a40" stroke="#111" stroke-width="1.0"/>
<circle cx="426.50" cy="345.50" r="2.1" fill="#dc1a40" stroke="#111" stroke-width="1.0"/>
<circle cx="418.90" cy="354.00" r="2.1" fill="#dc1a40" stroke="#111" stroke-width="1.0"/>
<circle cx="455.90" cy="255.00" r="2.1" fill="#f7951d" stroke="#111" stroke-width="1.0"/>
<circle cx="455.60" cy="259.60" r="2.1" fill="#f7951d" stroke="#111" stroke-width="1.0"/>
<circle cx="451.60" cy="266.10" r="2.1" fill="#f7951d" stroke="#111" stroke-width="1.0"/>
<circle cx="459.90" cy="267.60" r="2.1" fill="#f7951d" stroke="#111" stroke-width="1.0"/>
<circle cx="451.60" cy="288.80" r="2.1" fill="#f7951d" stroke="#111" stroke-width="1.0"/>
<circle cx="459.90" cy="290.20" r="2.1" fill="#f7951d" stroke="#111" stroke-width="1.0"/>
<circle cx="455.75" cy="328.50" r="2.1" fill="#f7951d" stroke="#111" stroke-width="1.0"/>
<circle cx="479.30" cy="257.70" r="2.1" fill="#0f7a5c" stroke="#111" stroke-width="1.0"/>
<circle cx="482.90" cy="257.30" r="2.1" fill="#0f7a5c" stroke="#111" stroke-width="1.0"/>
<circle cx="486.20" cy="258.00" r="2.1" fill="#0f7a5c" stroke="#111" stroke-width="1.0"/>
<circle cx="489.10" cy="259.40" r="2.1" fill="#0f7a5c" stroke="#111" stroke-width="1.0"/>
<circle cx="492.30" cy="255.00" r="2.1" fill="#0f7a5c" stroke="#111" stroke-width="1.0"/>
<circle cx="492.30" cy="258.90" r="2.1" fill="#0f7a5c" stroke="#111" stroke-width="1.0"/>
<circle cx="495.50" cy="256.50" r="2.1" fill="#0f7a5c" stroke="#111" stroke-width="1.0"/>
<circle cx="501.70" cy="255.30" r="2.1" fill="#0f7a5c" stroke="#111" stroke-width="1.0"/>
<circle cx="504.90" cy="258.30" r="2.1" fill="#0f7a5c" stroke="#111" stroke-width="1.0"/>
<circle cx="488.80" cy="263.90" r="2.1" fill="#0f7a5c" stroke="#111" stroke-width="1.0"/>
<circle cx="491.90" cy="266.30" r="2.1" fill="#0f7a5c" stroke="#111" stroke-width="1.0"/>
<circle cx="495.50" cy="268.70" r="2.1" fill="#0f7a5c" stroke="#111" stroke-width="1.0"/>
<circle cx="488.80" cy="270.30" r="2.1" fill="#0f7a5c" stroke="#111" stroke-width="1.0"/>
<circle cx="495.50" cy="272.70" r="2.1" fill="#0f7a5c" stroke="#111" stroke-width="1.0"/>
<circle cx="492.30" cy="274.80" r="2.1" fill="#0f7a5c" stroke="#111" stroke-width="1.0"/>
<circle cx="488.80" cy="275.70" r="2.1" fill="#0f7a5c" stroke="#111" stroke-width="1.0"/>
<circle cx="495.50" cy="277.70" r="2.1" fill="#0f7a5c" stroke="#111" stroke-width="1.0"/>
<circle cx="492.30" cy="281.30" r="2.1" fill="#0f7a5c" stroke="#111" stroke-width="1.0"/>
<circle cx="495.50" cy="287.20" r="2.1" fill="#0f7a5c" stroke="#111" stroke-width="1.0"/>
<circle cx="492.30" cy="290.40" r="2.1" fill="#0f7a5c" stroke="#111" stroke-width="1.0"/>
<circle cx="495.50" cy="295.50" r="2.1" fill="#0f7a5c" stroke="#111" stroke-width="1.0"/>
<circle cx="492.30" cy="297.80" r="2.1" fill="#0f7a5c" stroke="#111" stroke-width="1.0"/>
<circle cx="490.20" cy="314.70" r="2.1" fill="#0f7a5c" stroke="#111" stroke-width="1.0"/>
<circle cx="494.30" cy="316.20" r="2.1" fill="#0f7a5c" stroke="#111" stroke-width="1.0"/>
<circle cx="492.20" cy="339.00" r="2.1" fill="#0f7a5c" stroke="#111" stroke-width="1.0"/>
<circle cx="494.00" cy="346.90" r="2.1" fill="#0f7a5c" stroke="#111" stroke-width="1.0"/>
<circle cx="490.20" cy="350.50" r="2.1" fill="#0f7a5c" stroke="#111" stroke-width="1.0"/>
</svg>
</body></html>
